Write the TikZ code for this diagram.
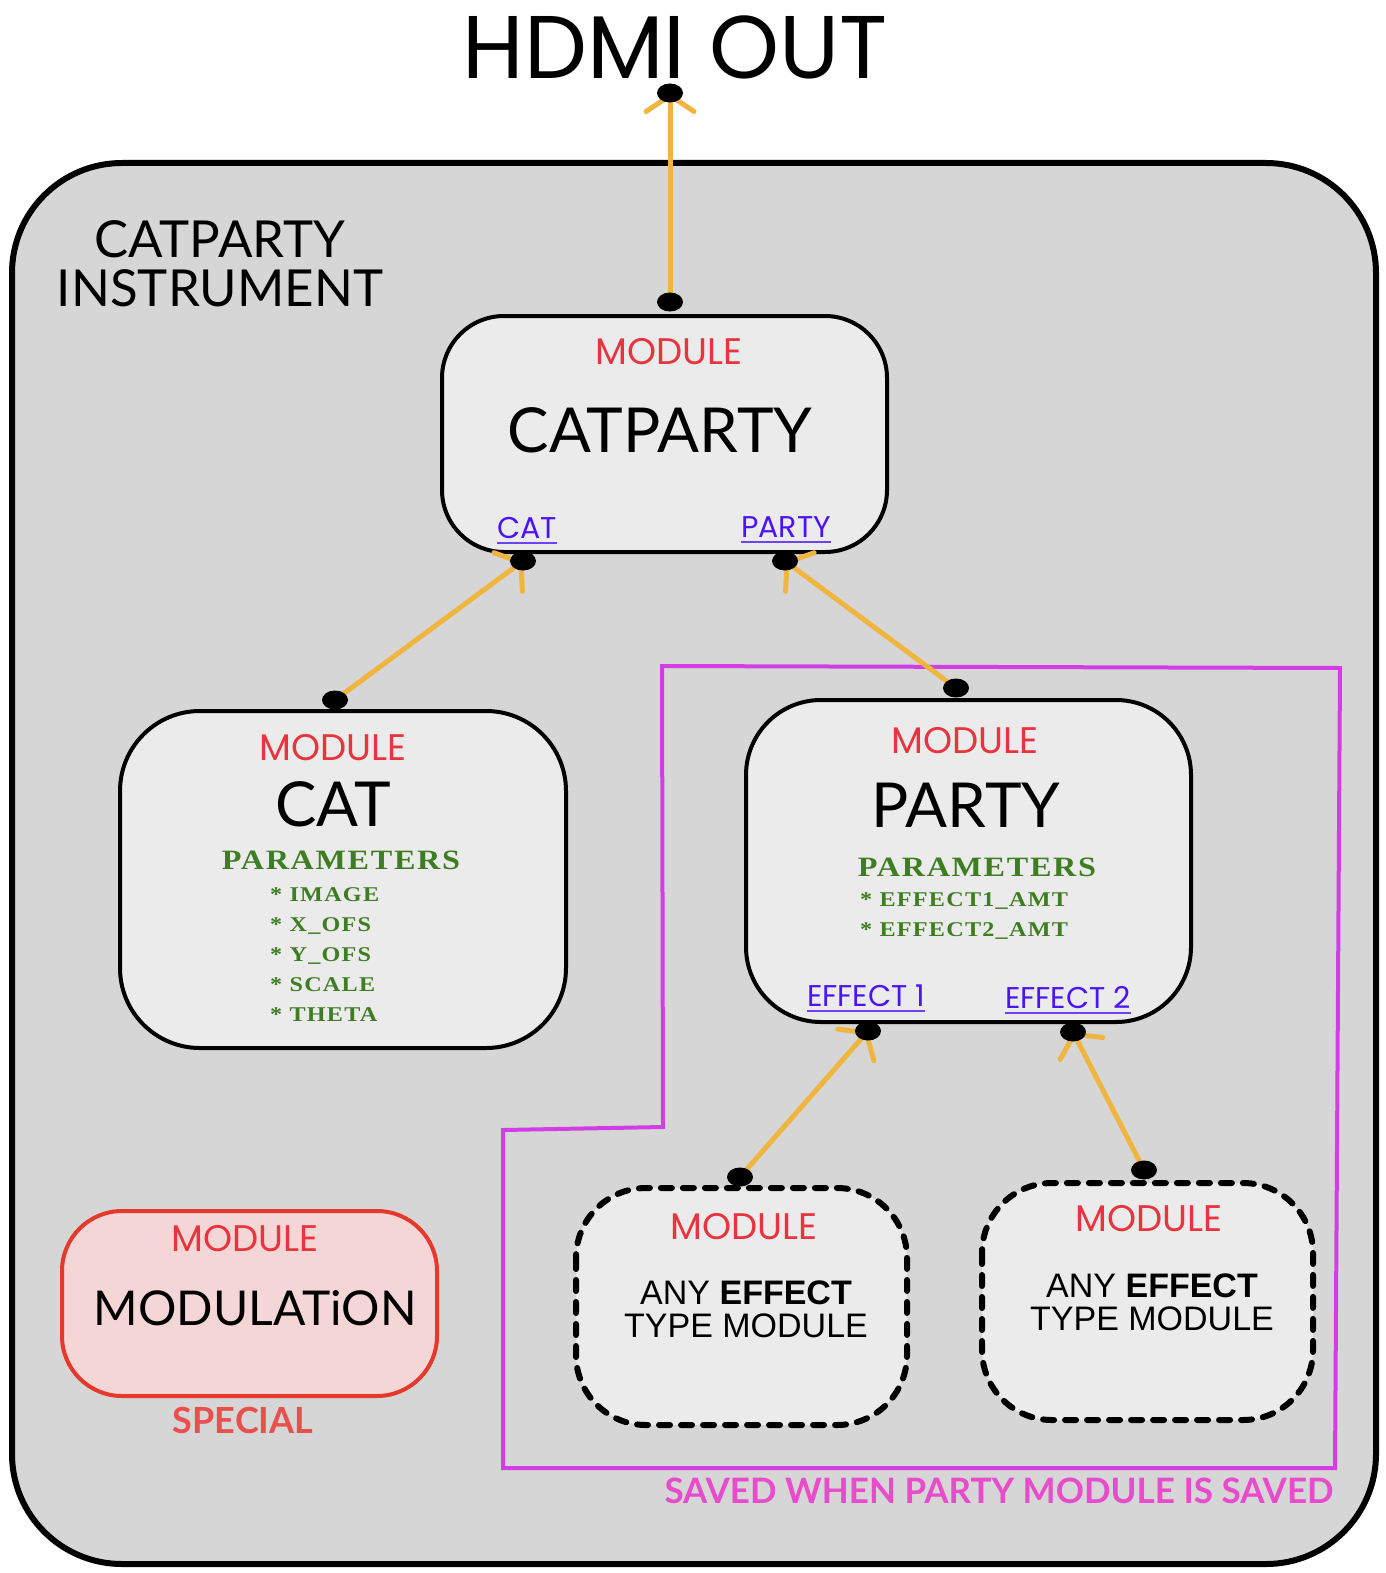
\documentclass[tikz,border=0pt]{standalone}
\usepackage{fontspec}
\setmainfont{Lato}
\newfontfamily\geo{Poppins}
\newfontfamily\avn{Lato}
\newfontfamily\cpp[FakeStretch=1.15,LetterSpace=6]{Liberation Serif}
\newfontfamily\hlv{Liberation Sans}
\usetikzlibrary{arrows.meta,shapes.geometric}
\definecolor{bggray}{HTML}{D6D6D6}
\definecolor{boxfill}{HTML}{EBEBEB}
\definecolor{wire}{HTML}{F0B53E}
\definecolor{modred}{HTML}{E8343F}
\definecolor{linkblue}{HTML}{4A14F5}
\definecolor{paramgreen}{HTML}{3E7D22}
\definecolor{saveline}{HTML}{D23DE6}
\definecolor{savetext}{HTML}{E84BCB}
\definecolor{specfill}{HTML}{F4D6D6}
\definecolor{specline}{HTML}{E5392D}
\definecolor{spectext}{HTML}{E8504D}
\tikzset{
  modbox/.style={draw=black, line width=4pt, fill=boxfill, rounded corners=62pt},
  dashbox/.style={draw=black, line width=6pt, fill=boxfill, rounded corners=70pt,
    dash pattern=on 11pt off 11pt, line cap=round},
  modtag/.style={text=modred, font=\geo\fontsize{37}{37}\selectfont, inner sep=0pt},
  bigname/.style={text=black, font=\avn\fontsize{62}{62}\selectfont, inner sep=0pt},
  linklabel/.style={text=linkblue, font=\geo\fontsize{30}{30}\selectfont, inner sep=0pt, anchor=base},
  paramhead/.style={text=paramgreen, font=\cpp\bfseries\fontsize{28}{28}\selectfont, inner sep=0pt, anchor=base},
  paramitem/.style={text=paramgreen, font=\cpp\bfseries\fontsize{21}{30}\selectfont, inner sep=0pt, anchor=base west},
  anytext/.style={text=black, font=\hlv\fontsize{34}{34}\selectfont, inner sep=0pt, align=center},
  wireline/.style={draw=wire, line width=5pt, line cap=round,
    -{Straight Barb[length=16pt,width=48pt,line width=5pt,round]}},
  dotmark/.style={fill=black}
}
\newcommand{\portdot}[1]{\fill[dotmark] (#1) ellipse [x radius=13pt, y radius=9.5pt];}
\begin{document}
\begin{tikzpicture}[x=1pt,y=-1pt]
\useasboundingbox (0,0) rectangle (1385,1573);
\fill[white] (0,0) rectangle (1385,1573);

% instrument frame
\draw[line width=6pt, fill=bggray, rounded corners=110pt] (12,163) rectangle (1376,1564);
\node[font=\avn\fontsize{51}{49}\selectfont, align=center, inner sep=0pt] (instr) at (220,264) {CATPARTY\\INSTRUMENT};

% output label
\node[font=\geo\fontsize{89}{89}\selectfont, inner sep=0pt] (hdmi) at (675,47) {HDMI OUT};

% group saved with the party module
\draw[saveline, line width=4pt, line join=miter] (662,666) -- (1340,668) -- (1335,1468) -- (503,1468) -- (503,1130) -- (663,1127) -- cycle;
\node[text=savetext, font=\avn\bfseries\fontsize{35}{35}\selectfont, inner sep=0pt] (savedlbl) at (999,1491) {SAVED WHEN PARTY MODULE IS SAVED};

% catparty module
\draw[modbox] (442,316) rectangle (887,552);
\node[modtag] (cpmod) at (669,352) {MODULE};
\node[bigname] (cpname) at (660,430) {CATPARTY};
\node[linklabel] (lcat) at (527,538) {CAT};
\node[linklabel] (lparty) at (786,537) {PARTY};

% cat module
\draw[modbox, rounded corners=80pt] (120,711) rectangle (566,1048);
\node[modtag] (catmod) at (333,748) {MODULE};
\node[bigname] (catname) at (333,804) {CAT};
\node[paramhead] (catparams) at (341,869) {PARAMETERS};
\node[paramitem] (ci1) at (270,901) {* IMAGE};
\node[paramitem] (ci2) at (270,931) {* X\_OFS};
\node[paramitem] (ci3) at (270,961) {* Y\_OFS};
\node[paramitem] (ci4) at (270,991) {* SCALE};
\node[paramitem] (ci5) at (270,1021) {* THETA};

% party module
\draw[modbox, rounded corners=75pt] (746,700) rectangle (1191,1022);
\node[modtag] (ptmod) at (965,741) {MODULE};
\node[bigname] (ptname) at (966,805) {PARTY};
\node[paramhead] (ptparams) at (977,876) {PARAMETERS};
\node[paramitem] (pi1) at (860,906) {* EFFECT1\_AMT};
\node[paramitem] (pi2) at (860,936) {* EFFECT2\_AMT};
\node[linklabel] (leff1) at (866,1006) {EFFECT 1};
\node[linklabel] (leff2) at (1068,1008) {EFFECT 2};

% generic effect modules
\draw[dashbox] (576,1188) rectangle (907,1425);
\node[modtag] (e1mod) at (744,1227) {MODULE};
\node[anytext] (e1name) at (746,1309) {ANY \textbf{EFFECT}\\[-1pt]TYPE MODULE};
\draw[dashbox] (982,1183) rectangle (1313,1420);
\node[modtag] (e2mod) at (1149,1219) {MODULE};
\node[anytext] (e2name) at (1152,1302) {ANY \textbf{EFFECT}\\[-1pt]TYPE MODULE};

% modulation module
\draw[draw=specline, line width=4pt, fill=specfill, rounded corners=60pt] (62,1211) rectangle (437,1396);
\node[modtag] (mdmod) at (245,1239) {MODULE};
\node[bigname, font=\avn\fontsize{48}{48}\selectfont] (mdname) at (255,1308) {MODULATiON};
\node[text=spectext, font=\avn\bfseries\fontsize{36}{36}\selectfont, inner sep=0pt] (special) at (243,1420) {SPECIAL};

% underlines of the port labels
\foreach \l in {lcat,lparty,leff1,leff2}{
  \draw[linkblue!80, line width=2.2pt] ([yshift=-5pt]\l.base west) -- ([yshift=-5pt]\l.base east);
}

% ports
\coordinate (pHdmi) at (670,93);
\coordinate (pCpOut) at (670,302);
\coordinate (pCpCat) at (523,561);
\coordinate (pCpParty) at (785,561);
\coordinate (pCatOut) at (335,700);
\coordinate (pPartyOut) at (956,688);
\coordinate (pEff1) at (868,1031);
\coordinate (pEff2) at (1073,1032);
\coordinate (pE1Out) at (740,1177);
\coordinate (pE2Out) at (1144,1170);

% connections
\draw[wireline] (pCpOut) -- (pHdmi);
\draw[wireline] (pCatOut) -- (pCpCat);
\draw[wireline] (pPartyOut) -- (pCpParty);
\draw[wireline] (pE1Out) -- (pEff1);
\draw[wireline] (pE2Out) -- (pEff2);

\foreach \p in {pHdmi,pCpOut,pCpCat,pCpParty,pCatOut,pPartyOut,pEff1,pEff2,pE1Out,pE2Out}{
  \portdot{\p}
}
\end{tikzpicture}
\end{document}
